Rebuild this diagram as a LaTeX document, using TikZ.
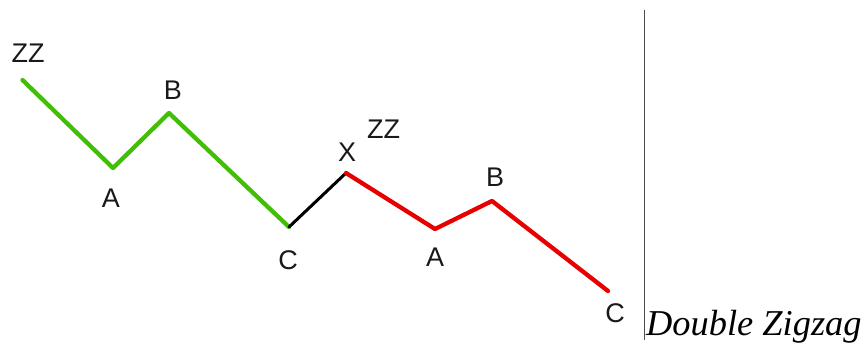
\documentclass[tikz,border=0pt]{standalone}
\usepackage{fontspec}
\setmainfont{Liberation Serif}
\newfontfamily\lblfont{Liberation Sans}
\definecolor{zzgreen}{RGB}{65,190,5}
\definecolor{zzred}{RGB}{232,0,0}
\tikzset{
  lbl/.style={font=\lblfont\fontsize{27}{27}\selectfont, inner sep=0pt, text=black!90},
  wave/.style={line width=4.3pt, line cap=round, line join=round},
}
\begin{document}
\begin{tikzpicture}[x=1pt,y=-1pt]
\useasboundingbox (0,0) rectangle (866,345);
% points
\coordinate (g0) at (22.5,80);
\coordinate (g1) at (113,168);
\coordinate (g2) at (169,113);
\coordinate (g3) at (289,227);
\coordinate (x0) at (346,173);
\coordinate (r1) at (435,229);
\coordinate (r2) at (492,201);
\coordinate (r3) at (608,291);
\coordinate (vt) at (644,10);
\coordinate (vb) at (644,340);
% waves
\draw[wave, zzgreen] (g0) -- (g1) -- (g2) -- (g3);
\draw[line width=3pt, line cap=round, black] (g3) -- (x0);
\draw[wave, zzred] (x0) -- (r1) -- (r2) -- (r3);
\draw[line width=0.8pt, black!70] (vt) -- (vb);
% labels
\node[lbl] (lzz1) at (28,53) {ZZ};
\node[lbl] (la1) at (111,198) {A};
\node[lbl] (lb1) at (173,90) {B};
\node[lbl] (lc1) at (288,260) {C};
\node[lbl] (lx) at (347,152) {X};
\node[lbl] (lzz2) at (383.5,129) {ZZ};
\node[lbl] (la2) at (435,257) {A};
\node[lbl] (lb2) at (495,177) {B};
\node[lbl] (lc2) at (615,313) {C};
\node[anchor=base west, inner sep=0pt, font=\itshape\fontsize{36.4}{36.4}\selectfont] (title) at (646,335) {Double Zigzag};
\end{tikzpicture}
\end{document}
